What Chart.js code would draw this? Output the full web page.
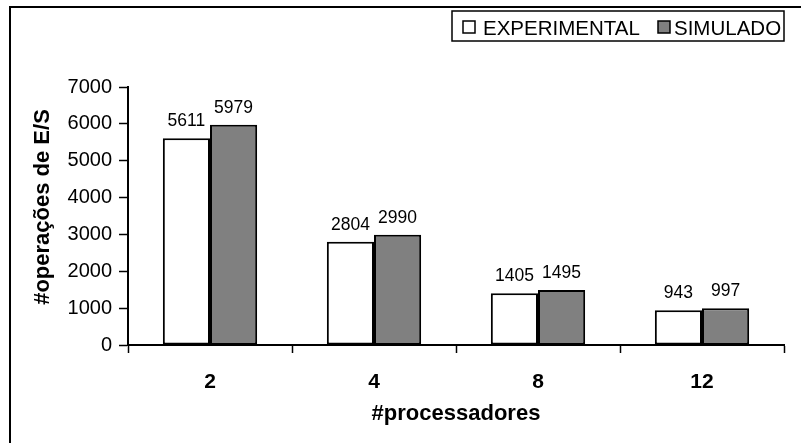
<!DOCTYPE html>
<html>
<head>
<meta charset="utf-8">
<script src="https://cdn.jsdelivr.net/npm/chart.js@4/dist/chart.umd.min.js"></script>
<style>
  html, body { margin: 0; padding: 0; background: #ffffff; }
  #wrap { width: 801px; height: 443px; position: relative; }
</style>
</head>
<body>
<div id="wrap"><canvas id="c"></canvas></div>
<script>
// Number of processors on the x axis
const processadores = ['2', '4', '8', '12'];
// I/O operation counts per series
const experimental = [5611, 2804, 1405, 943];
const simulado = [5979, 2990, 1495, 997];
const seriesNames = ['EXPERIMENTAL', 'SIMULADO'];
const yTitle = '#operações de E/S';
const xTitle = '#processadores';

const FONT = '"Liberation Sans", Arial, sans-serif';

// Outer frame, legend box, value labels and rotated y title
const decorations = {
  id: 'decorations',
  afterDatasetsDraw(chart) {
    const ctx = chart.ctx;
    ctx.save();
    ctx.fillStyle = '#000';
    ctx.font = '17.5px ' + FONT;
    ctx.textAlign = 'center';
    ctx.textBaseline = 'alphabetic';
    chart.data.datasets.forEach((ds, i) => {
      chart.getDatasetMeta(i).data.forEach((bar, j) => {
        ctx.fillText(String(ds.data[j]), bar.x, bar.y - 12);
      });
    });
    ctx.restore();
  },
  afterDraw(chart) {
    const ctx = chart.ctx;
    ctx.save();
    // frame
    ctx.strokeStyle = '#000';
    ctx.lineWidth = 2;
    ctx.beginPath();
    ctx.moveTo(10, chart.height + 2);
    ctx.lineTo(10, 7);
    ctx.lineTo(chart.width + 2, 7);
    ctx.stroke();

    // y axis title
    ctx.fillStyle = '#000';
    ctx.font = 'bold 22px ' + FONT;
    ctx.textAlign = 'center';
    ctx.textBaseline = 'middle';
    ctx.translate(43, 207);
    ctx.rotate(-Math.PI / 2);
    ctx.fillText(yTitle, 0, 0);
    ctx.restore();

    // legend
    ctx.save();
    const boxL = 452, boxT = 11, boxR = 784, boxB = 41;
    ctx.fillStyle = '#fff';
    ctx.fillRect(boxL, boxT, boxR - boxL, boxB - boxT);
    ctx.strokeStyle = '#000';
    ctx.lineWidth = 1.5;
    ctx.strokeRect(boxL, boxT, boxR - boxL, boxB - boxT);
    ctx.font = '20.5px ' + FONT;
    ctx.textBaseline = 'alphabetic';
    ctx.textAlign = 'left';
    const itemX = [463, 658];
    const textGap = [20, 16];
    chart.data.datasets.forEach((ds, i) => {
      const x = itemX[i];
      ctx.fillStyle = ds.backgroundColor;
      ctx.fillRect(x, 21, 12, 12);
      ctx.lineWidth = 1.5;
      ctx.strokeStyle = '#000';
      ctx.strokeRect(x, 21, 12, 12);
      ctx.fillStyle = '#000';
      ctx.fillText(ds.label, x + textGap[i], 35);
    });
    ctx.restore();
  }
};

new Chart(document.getElementById('c'), {
  type: 'bar',
  data: {
    labels: processadores,
    datasets: [
      {
        label: seriesNames[0],
        data: experimental,
        backgroundColor: '#ffffff',
        borderColor: '#000000',
        borderWidth: 2,
        borderSkipped: false
      },
      {
        label: seriesNames[1],
        data: simulado,
        backgroundColor: '#808080',
        borderColor: '#000000',
        borderWidth: 2,
        borderSkipped: false
      }
    ]
  },
  options: {
    responsive: true,
    maintainAspectRatio: false,
    animation: false,
    devicePixelRatio: 1,
    layout: { padding: { left: 0, top: 87, right: 17, bottom: 0 } },
    categoryPercentage: 0.575,
    barPercentage: 1.0,
    plugins: {
      legend: { display: false },
      tooltip: { enabled: false }
    },
    scales: {
      x: {
        grid: {
          offset: true,
          drawOnChartArea: false,
          drawTicks: true,
          tickLength: 8,
          tickColor: '#000',
          tickWidth: 1.5
        },
        border: { display: true, color: '#000', width: 2 },
        ticks: {
          color: '#000',
          font: { family: FONT, size: 21, weight: 'bold' },
          padding: 17
        },
        title: {
          display: true,
          text: xTitle,
          color: '#000',
          font: { family: FONT, size: 22, weight: 'bold' },
          padding: { top: 0, bottom: 16 }
        },
        afterFit(scale) { scale.height = 98; }
      },
      y: {
        min: 0,
        max: 7000,
        ticks: {
          stepSize: 1000,
          color: '#000',
          font: { family: FONT, size: 20 },
          padding: 7,
          callback: (v) => String(v)
        },
        grid: {
          drawOnChartArea: false,
          drawTicks: true,
          tickLength: 9,
          tickColor: '#000',
          tickWidth: 1.5
        },
        border: { display: true, color: '#000', width: 2 },
        afterFit(scale) { scale.width = 128; }
      }
    }
  },
  plugins: [decorations]
});
</script>
</body>
</html>
